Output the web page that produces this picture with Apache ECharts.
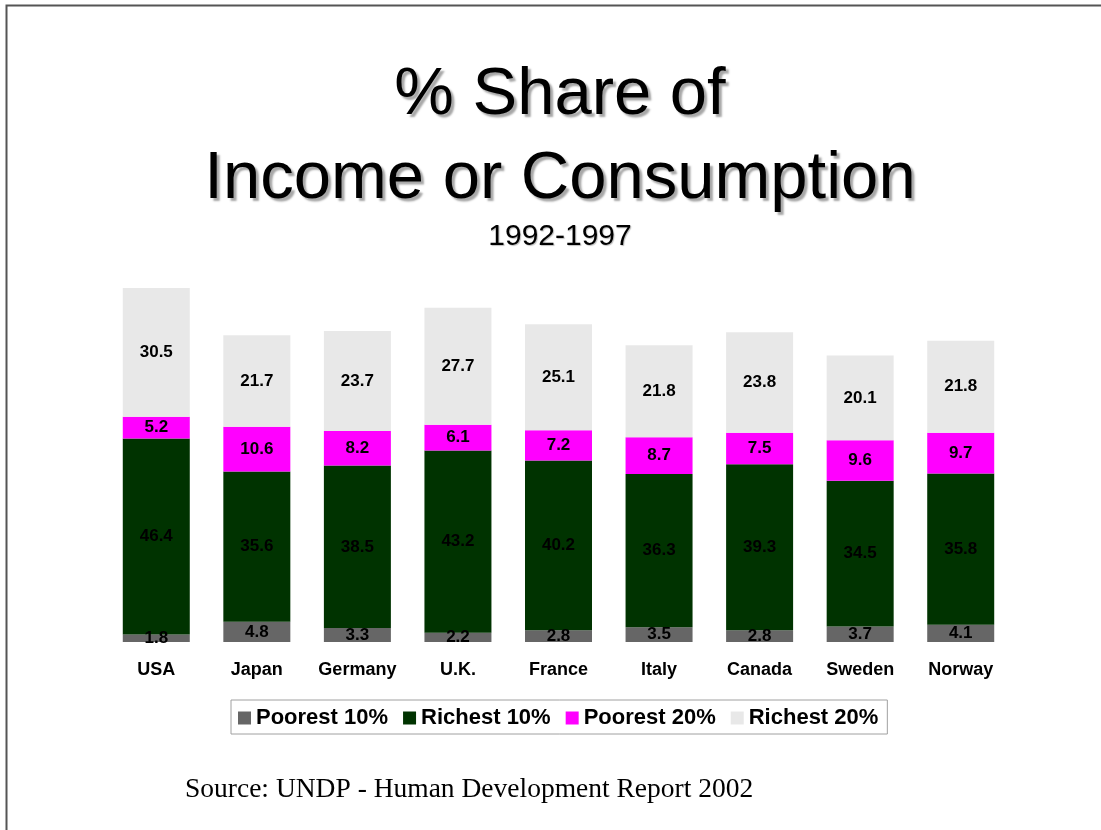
<!DOCTYPE html>
<html>
<head>
<meta charset="utf-8">
<script src="https://cdn.jsdelivr.net/npm/echarts@6/dist/echarts.min.js"></script>
<style>
  html, body { margin: 0; padding: 0; background: #ffffff; }
  #chart { width: 1101px; height: 830px; }
</style>
</head>
<body>
<div id="chart"></div>
<script>
// Income shares by country, 1992-1997 (UNDP Human Development Report 2002)
const countries   = ['USA', 'Japan', 'Germany', 'U.K.', 'France', 'Italy', 'Canada', 'Sweden', 'Norway'];
const poorest10   = [1.8, 4.8, 3.3, 2.2, 2.8, 3.5, 2.8, 3.7, 4.1];
const richest10   = [46.4, 35.6, 38.5, 43.2, 40.2, 36.3, 39.3, 34.5, 35.8];
const poorest20   = [5.2, 10.6, 8.2, 6.1, 7.2, 8.7, 7.5, 9.6, 9.7];
const richest20   = [30.5, 21.7, 23.7, 27.7, 25.1, 21.8, 23.8, 20.1, 21.8];

const SANS = '"Liberation Sans", Arial, sans-serif';
const SERIF = '"Liberation Serif", "Times New Roman", serif';

const chart = echarts.init(document.getElementById('chart'), null, { renderer: 'canvas' });

function segment(name, data, color) {
  return {
    name: name,
    type: 'bar',
    stack: 'share',
    data: data,
    barWidth: 67,
    itemStyle: { color: color },
    label: {
      show: true,
      position: 'inside',
      color: '#000000',
      fontFamily: SANS,
      fontWeight: 'bold',
      fontSize: 17,
      formatter: p => p.value.toFixed(1)
    },
    emphasis: { disabled: true },
    animation: false
  };
}

chart.setOption({
  backgroundColor: '#ffffff',
  animation: false,
  title: [
    {
      text: '% Share of\nIncome or Consumption',
      left: 555,
      top: 49,
      textAlign: 'center',
      textStyle: {
        fontFamily: SANS,
        fontWeight: 'normal',
        fontSize: 67,
        lineHeight: 84,
        color: '#000000',
        textShadowColor: 'rgba(0,0,0,0.35)',
        textShadowOffsetX: 3,
        textShadowOffsetY: 3,
        textShadowBlur: 2
      }
    },
    {
      text: '1992-1997',
      left: 555,
      top: 217,
      textAlign: 'center',
      textStyle: {
        fontFamily: SANS,
        fontWeight: 'normal',
        fontSize: 30,
        lineHeight: 30,
        color: '#000000',
        textShadowColor: 'rgba(0,0,0,0.25)',
        textShadowOffsetX: 1,
        textShadowOffsetY: 1,
        textShadowBlur: 1
      }
    },
    {
      text: 'Source: UNDP - Human Development Report 2002',
      left: 180,
      top: 771,
      textStyle: {
        fontFamily: SERIF,
        fontWeight: 'normal',
        fontSize: 27.5,
        lineHeight: 28,
        color: '#000000'
      }
    }
  ],
  legend: {
    data: ['Poorest 10%', 'Richest 10%', 'Poorest 20%', 'Richest 20%'],
    left: 231,
    top: 700,
    padding: [7, 9, 5, 7],
    itemGap: 15,
    itemWidth: 13,
    itemHeight: 13,
    icon: 'rect',
    borderColor: '#a0a0a0',
    borderWidth: 1,
    textStyle: {
      fontFamily: SANS,
      fontWeight: 'bold',
      fontSize: 22,
      lineHeight: 22,
      color: '#000000'
    },
    selectedMode: false
  },
  grid: { left: 106, right: 90, top: 220, bottom: 188, containLabel: false },
  xAxis: {
    type: 'category',
    data: countries,
    axisLine: { show: false },
    axisTick: { show: false },
    axisLabel: {
      interval: 0,
      margin: 19,
      fontFamily: SANS,
      fontWeight: 'bold',
      fontSize: 18,
      color: '#000000'
    }
  },
  yAxis: {
    type: 'value',
    min: 0,
    max: 100,
    show: false,
    splitLine: { show: false }
  },
  series: [
    segment('Poorest 10%', poorest10, '#666666'),
    segment('Richest 10%', richest10, '#003300'),
    segment('Poorest 20%', poorest20, '#ff00ff'),
    segment('Richest 20%', richest20, '#e8e8e8')
  ],
  graphic: [
    {
      type: 'polyline',
      shape: { points: [[6.5, 830], [6.5, 5.5], [1101, 5.5]] },
      style: { stroke: '#555555', lineWidth: 2, fill: null },
      silent: true
    }
  ]
});
</script>
</body>
</html>
